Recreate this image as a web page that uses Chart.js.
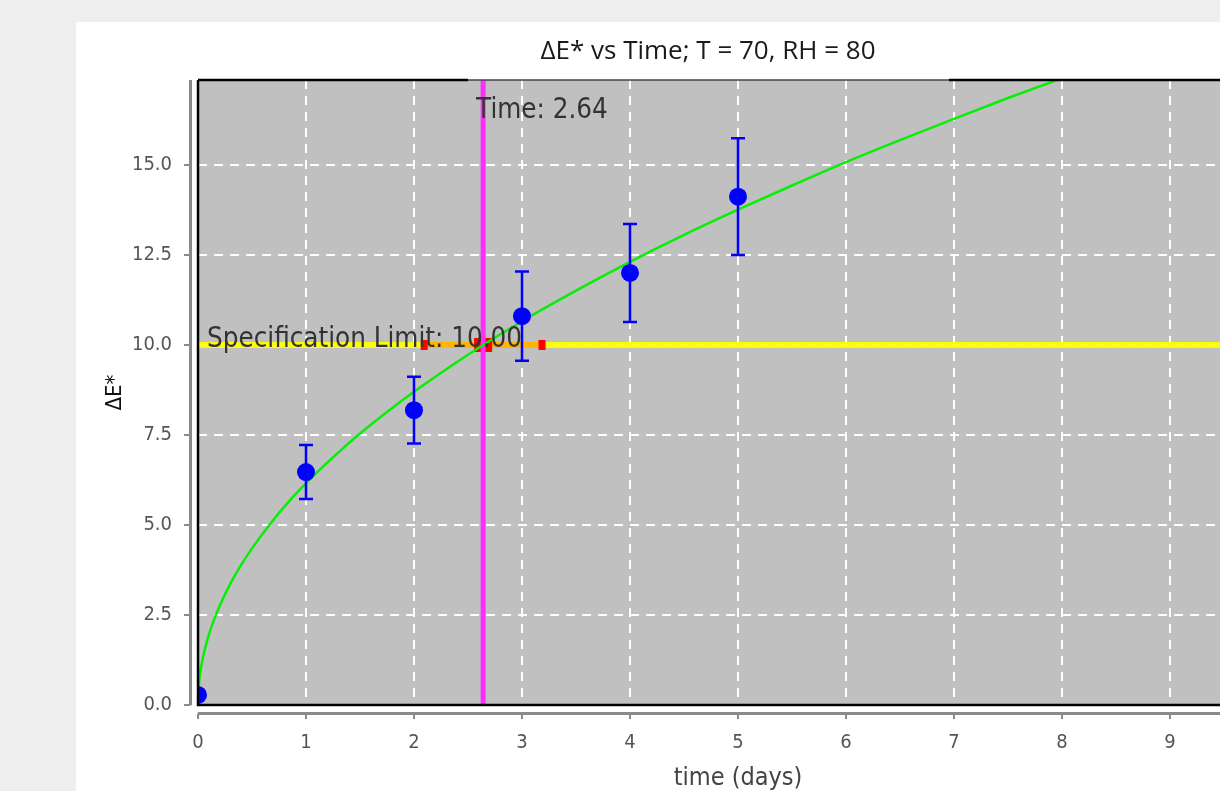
<!DOCTYPE html>
<html lang="en">
<head>
    <meta charset="UTF-8">
    <title>ΔE* vs Time</title>
    <script src="https://cdn.jsdelivr.net/npm/chart.js@4.4.0/dist/chart.umd.min.js"></script>
    <style>
        html, body {
            margin: 0;
            padding: 0;
            background-color: #eeeeee;
            overflow: hidden;
            width: 1220px;
            height: 791px;
        }
        #panel {
            position: absolute;
            left: 76px;
            top: 22px;
            width: 1264px;
            height: 780px;
            background-color: #ffffff;
        }
    </style>
</head>
<body>
    <div id="panel">
        <canvas id="deltaChart" width="1264" height="780"></canvas>
    </div>

    <script>
        const chartTitle = 'ΔE* vs Time; T = 70, RH = 80';

        // measured points with error bars
        const days = [0, 1, 2, 3, 4, 5];
        const deltaE = [0.28, 6.47, 8.19, 10.8, 12.0, 14.12];
        const deltaErr = [0, 0.75, 0.93, 1.24, 1.36, 1.62];

        // fitted curve
        const fitTime = [0, 0.01, 0.03, 0.06, 0.1, 0.15, 0.2, 0.3, 0.4, 0.5, 0.65, 0.8, 1, 1.25, 1.5, 1.75,
                         2, 2.5, 3, 3.5, 4, 4.5, 5, 5.5, 6, 6.5, 7, 7.5, 8, 8.5];
        const fitDeltaE = [0, 0.62, 1.07, 1.51, 1.95, 2.38, 2.75, 3.37, 3.89, 4.35, 4.96, 5.51, 6.16, 6.88, 7.54, 8.14,
                           8.70, 9.73, 10.66, 11.51, 12.31, 13.06, 13.76, 14.43, 15.08, 15.69, 16.28, 16.86, 17.41, 17.94];

        // specification limit and the time it is crossed
        const specLimit = 10.0;
        const crossTime = 2.64;
        const crossTimeLow = 2.09;
        const crossTimeHigh = 3.19;

        // axis ranges
        const xMax = 10;
        const yMax = 17.36;

        const labelFont = "'DejaVu Sans Condensed', 'DejaVu Sans', sans-serif";

        const overlayPlugin = {
            id: 'overlay',
            beforeDraw(chart) {
                const { ctx, chartArea: a } = chart;
                ctx.save();
                ctx.fillStyle = '#c0c0c0';
                ctx.fillRect(a.left, a.top, a.right - a.left, a.bottom - a.top);
                ctx.restore();
            },
            afterDatasetDraw(chart, args) {
                if (args.index !== 0) return;
                // interval on the time where the curve crosses the limit
                const { ctx, scales: { x, y } } = chart;
                const py = y.getPixelForValue(specLimit);
                const x0 = x.getPixelForValue(crossTimeLow);
                const x1 = x.getPixelForValue(crossTimeHigh);
                const xc = x.getPixelForValue(crossTime);
                ctx.save();
                ctx.fillStyle = '#ffb400';
                ctx.fillRect(x0, py - 3, x1 - x0, 6);
                ctx.fillStyle = '#ff0000';
                ctx.fillRect(x0 - 3, py - 5, 7, 10);
                ctx.fillRect(x1 - 4, py - 5, 7, 10);
                ctx.fillRect(xc - 9, py - 7, 18, 14);
                ctx.restore();
            },
            afterDatasetsDraw(chart) {
                const { ctx, scales: { x, y } } = chart;
                ctx.save();
                ctx.strokeStyle = '#0000ff';
                ctx.lineWidth = 2.5;
                days.forEach((d, i) => {
                    if (!deltaErr[i]) return;
                    const px = x.getPixelForValue(d);
                    const top = y.getPixelForValue(deltaE[i] + deltaErr[i]);
                    const bot = y.getPixelForValue(deltaE[i] - deltaErr[i]);
                    ctx.beginPath();
                    ctx.moveTo(px, top); ctx.lineTo(px, bot);
                    ctx.moveTo(px - 7, top); ctx.lineTo(px + 7, top);
                    ctx.moveTo(px - 7, bot); ctx.lineTo(px + 7, bot);
                    ctx.stroke();
                });
                ctx.restore();
            },
            afterDraw(chart) {
                const { ctx, chartArea: area, scales: { x, y } } = chart;
                ctx.save();

                // title, centred on the whole panel
                ctx.fillStyle = '#1a1a1a';
                ctx.font = "26px 'Open Sans', sans-serif";
                ctx.textAlign = 'center';
                ctx.textBaseline = 'middle';
                ctx.fillText(chartTitle, chart.width / 2, 30);

                // offset grey axis lines with small ticks
                ctx.strokeStyle = '#8a8a8a';
                ctx.lineWidth = 3;
                ctx.beginPath();
                ctx.moveTo(area.left - 7.5, area.top);
                ctx.lineTo(area.left - 7.5, area.bottom);
                ctx.moveTo(area.left, area.bottom + 8.5);
                ctx.lineTo(area.right, area.bottom + 8.5);
                ctx.stroke();
                ctx.lineWidth = 2;
                ctx.beginPath();
                y.ticks.forEach(t => {
                    const py = y.getPixelForValue(t.value);
                    ctx.moveTo(area.left - 14, py); ctx.lineTo(area.left - 7.5, py);
                });
                x.ticks.forEach(t => {
                    const px = x.getPixelForValue(t.value);
                    ctx.moveTo(px, area.bottom + 8.5); ctx.lineTo(px, area.bottom + 14);
                });
                ctx.stroke();

                // plot frame
                ctx.strokeStyle = '#000000';
                ctx.lineWidth = 2.5;
                ctx.beginPath();
                ctx.moveTo(area.left, area.top);
                ctx.lineTo(area.left, area.bottom);
                ctx.lineTo(area.right, area.bottom);
                ctx.moveTo(area.left, area.top);
                ctx.lineTo(area.left + 270, area.top);
                ctx.moveTo(area.left + 751, area.top);
                ctx.lineTo(area.right, area.top);
                ctx.stroke();
                ctx.strokeStyle = '#444444';
                ctx.lineWidth = 1.5;
                ctx.beginPath();
                ctx.moveTo(area.left + 270, area.top);
                ctx.lineTo(area.left + 751, area.top);
                ctx.stroke();

                // annotations
                ctx.fillStyle = '#333333';
                ctx.font = '27.5px ' + labelFont;
                ctx.textBaseline = 'middle';
                ctx.textAlign = 'left';
                ctx.fillText('Time: ' + crossTime.toFixed(2), x.getPixelForValue(crossTime) - 7, area.top + 31);
                ctx.fillText('Specification Limit: ' + specLimit.toFixed(2), area.left + 9, y.getPixelForValue(specLimit) - 5);
                ctx.restore();
            }
        };

        const ctx = document.getElementById('deltaChart').getContext('2d');
        new Chart(ctx, {
            type: 'scatter',
            data: {
                datasets: [
                    {
                        label: 'Specification Limit',
                        data: [{ x: 0, y: specLimit }, { x: xMax, y: specLimit }],
                        showLine: true,
                        borderColor: 'rgba(255, 255, 0, 0.93)',
                        borderWidth: 6,
                        pointRadius: 0,
                        order: 5
                    },
                    {
                        label: 'Time',
                        data: [{ x: crossTime, y: 0 }, { x: crossTime, y: yMax }],
                        showLine: true,
                        borderColor: '#ff2eff',
                        borderWidth: 5,
                        pointRadius: 0,
                        order: 4
                    },
                    {
                        label: 'Fit',
                        data: fitTime.map((t, i) => ({ x: t, y: fitDeltaE[i] })),
                        showLine: true,
                        borderColor: '#08ee08',
                        borderWidth: 2.5,
                        pointRadius: 0,
                        cubicInterpolationMode: 'monotone',
                        order: 3
                    },
                    {
                        label: 'ΔE*',
                        data: days.map((d, i) => ({ x: d, y: deltaE[i] })),
                        backgroundColor: '#0000ff',
                        borderWidth: 0,
                        pointRadius: 9,
                        order: 1
                    }
                ]
            },
            options: {
                responsive: false,
                animation: false,
                events: [],
                layout: {
                    padding: { left: 0, right: 62, top: 58, bottom: 2 }
                },
                plugins: {
                    legend: { display: false },
                    tooltip: { enabled: false },
                    title: { display: false }
                },
                scales: {
                    x: {
                        type: 'linear',
                        min: 0,
                        max: xMax,
                        afterFit(scale) { scale.height = 95; },
                        grid: { color: '#ffffff', lineWidth: 2, drawTicks: false },
                        border: { display: false, dash: [9, 7] },
                        ticks: {
                            stepSize: 1,
                            padding: 26,
                            color: '#555555',
                            font: { family: labelFont, size: 20 }
                        },
                        title: {
                            display: true,
                            text: 'time (days)',
                            color: '#444444',
                            font: { family: labelFont, size: 25 },
                            padding: { top: 0, bottom: 7 }
                        }
                    },
                    y: {
                        type: 'linear',
                        min: 0,
                        max: yMax,
                        afterFit(scale) { scale.width = 122; },
                        grid: { color: '#ffffff', lineWidth: 2, drawTicks: false },
                        border: { display: false, dash: [9, 7] },
                        ticks: {
                            stepSize: 2.5,
                            includeBounds: false,
                            padding: 26,
                            color: '#555555',
                            font: { family: labelFont, size: 20 },
                            callback: v => v.toFixed(1)
                        },
                        title: {
                            display: true,
                            text: 'ΔE*',
                            color: '#111111',
                            font: { family: labelFont, size: 22 },
                            padding: { top: 26, bottom: 0 }
                        }
                    }
                }
            },
            plugins: [overlayPlugin]
        });
    </script>
</body>
</html>
